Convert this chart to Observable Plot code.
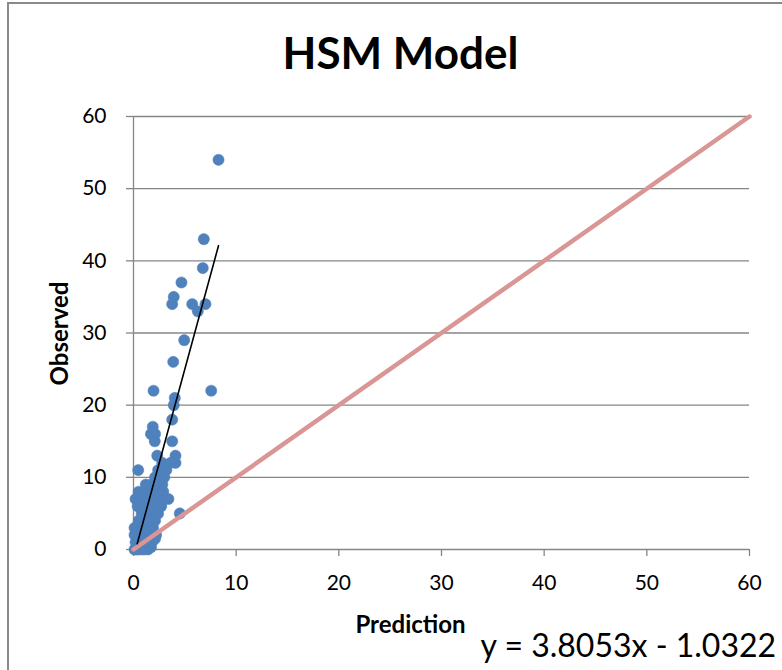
<!DOCTYPE html>
<html>
<head>
<meta charset="utf-8">
<script src="https://cdn.jsdelivr.net/npm/d3@7"></script>
<script src="https://cdn.jsdelivr.net/npm/@observablehq/plot@0.6"></script>
<style>
  html, body { margin: 0; padding: 0; background: #fff; overflow: hidden; }
  #wrap { position: relative; width: 782px; height: 670px; overflow: hidden; }
  #border { position: absolute; left: 7px; top: 2px; width: 900px; height: 900px;
            border-left: 2px solid #8a8a8a; border-top: 2px solid #8a8a8a; }
  #chart { position: absolute; left: 0; top: 0; }
</style>
</head>
<body>
<div id="wrap"><div id="border"></div><div id="chart"></div></div>
<script>
// Observed vs. predicted values
const prediction = [
  8.28, 6.85, 6.75, 4.67, 3.92, 3.77, 5.72, 6.26, 7.01, 4.94, 3.87, 1.95, 7.57, 4.02, 3.92, 3.77,
  1.88, 1.7, 2.1, 2.07, 3.77, 2.31, 4.09, 4.09, 0.46, 4.51,
  2.8, 3.2, 3.6, 2.6, 3.0,
  0.1, 0.3, 0.6, 1.0, 1.4, 1.7, 0.2, 0.5, 0.9, 1.3, 1.8, 2.1,
  0.1, 0.4, 0.8, 1.2, 1.6, 2.2, 0.1, 0.3, 0.7, 1.1, 1.5, 1.9,
  0.5, 0.9, 1.3, 1.7, 2.1, 0.8, 1.2, 1.6, 2.0, 2.4,
  0.4, 0.9, 1.4, 1.9, 2.3, 2.7, 0.2, 0.6, 1.1, 1.6, 2.1, 2.6, 3.0, 3.4,
  0.5, 1.0, 1.5, 2.0, 2.5, 2.9, 1.2, 1.7, 2.3, 2.8,
  2.1, 2.4
];
const observed = [
  54, 43, 39, 37, 35, 34, 34, 33, 34, 29, 26, 22, 22, 21, 20, 18,
  17, 16, 16, 15, 15, 13, 13, 12, 11, 5,
  12, 11, 12, 10, 10,
  0, 0, 0, 0, 0, 0.3, 1, 1, 1, 1, 1, 1.5,
  2, 2, 2, 2, 2, 2, 3, 3, 3, 3, 3, 3,
  4, 4, 4, 4, 4, 5, 5, 5, 5, 5,
  6, 6, 6, 6, 6, 6, 7, 7, 7, 7, 7, 7, 7, 7,
  8, 8, 8, 8, 8, 8, 9, 9, 9, 9,
  10, 11
];
// Trend line as drawn (endpoints)
const trendX = [0.36, 8.28];
const trendY = [0.8, 42.1];
// 1:1 reference line
const identityX = [0, 60];
const identityY = [0, 60];
// Axis ticks
const xTicks = [0, 10, 20, 30, 40, 50, 60];
const yTicks = [0, 10, 20, 30, 40, 50, 60];
const gridTicks = [10, 20, 30, 40, 50, 60];

const titleText = "HSM Model";
const xLabel = "Prediction";
const yLabel = "Observed";
const equation = "y = 3.8053x - 1.0322";

const points = prediction.map((p, i) => ({p, o: observed[i]}));
const trend = trendX.map((x, i) => ({x, y: trendY[i]}));
const identity = identityX.map((x, i) => ({x, y: identityY[i]}));

const gray = "#868686";
const font = "Lato, 'Open Sans', sans-serif";

const chart = Plot.plot({
  width: 782,
  height: 670,
  marginLeft: 133,
  marginRight: 33,
  marginTop: 116,
  marginBottom: 121,
  style: {fontFamily: font, background: "transparent", overflow: "visible"},
  x: {domain: [0, 60]},
  y: {domain: [0, 60]},
  marks: [
    Plot.ruleY(gridTicks, {stroke: gray, strokeWidth: 1.3}),
    Plot.ruleX([0], {stroke: gray, strokeWidth: 1.3}),
    Plot.ruleY([0], {stroke: gray, strokeWidth: 1.3}),
    Plot.axisY({ticks: yTicks, tickSize: 7, tickPadding: 20, stroke: gray, strokeWidth: 1.3,
                fontSize: 21, fill: "#000", label: null, tickFormat: d => String(d)}),
    Plot.axisX({ticks: xTicks, tickSize: 7, tickPadding: 19, stroke: gray, strokeWidth: 1.3,
                fontSize: 21, fill: "#000", label: null, tickFormat: d => String(d)}),
    Plot.dot(points, {x: "p", y: "o", r: 5.6, fill: "#4f81bd", stroke: "#4f81bd", strokeWidth: 0.5}),
    Plot.line(identity, {x: "x", y: "y", stroke: "#d99694", strokeWidth: 4.5}),
    Plot.line(trend, {x: "x", y: "y", stroke: "#000", strokeWidth: 1.6}),
    Plot.text([titleText], {frameAnchor: "top-left", dx: 267, dy: -62, text: d => d,
      fontSize: 44, fontWeight: "bold", textAnchor: "middle", lineAnchor: "middle", fill: "#000"}),
    Plot.text([yLabel], {frameAnchor: "top-left", dx: -73, dy: 217, text: d => d, rotate: -90,
      fontSize: 24, fontWeight: "bold", textAnchor: "middle", lineAnchor: "middle", fill: "#000"}),
    Plot.text([xLabel], {frameAnchor: "top-left", dx: 277, dy: 509, text: d => d,
      fontSize: 24, fontWeight: "bold", textAnchor: "middle", lineAnchor: "middle", fill: "#000"}),
    Plot.text([equation], {frameAnchor: "top-left", dx: 347, dy: 530, text: d => d,
      fontSize: 32, textAnchor: "start", lineAnchor: "middle", fill: "#000"})
  ]
});
document.getElementById("chart").appendChild(chart);
</script>
</body>
</html>
